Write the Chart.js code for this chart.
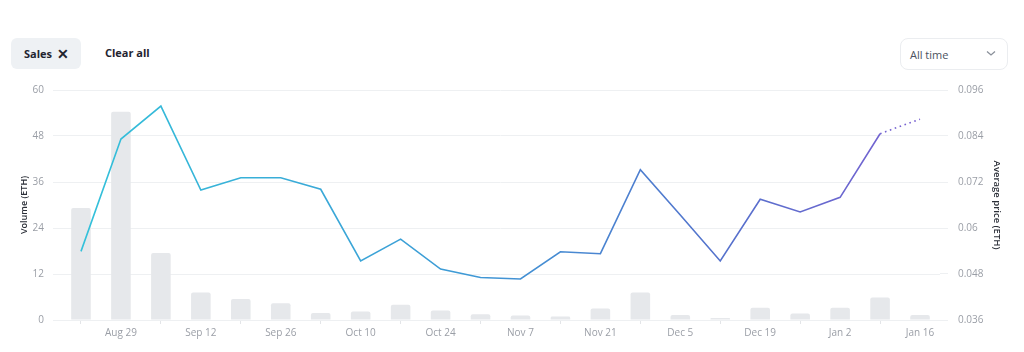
<!DOCTYPE html>
<html>
<head>
<meta charset="utf-8">
<script src="https://cdn.jsdelivr.net/npm/chart.js@4"></script>
<style>
    body { margin: 0; background: #fff; font-family: "Open Sans", sans-serif; }
    .wrap { position: relative; width: 1024px; height: 352px; overflow: hidden; }
    .chip { position: absolute; left: 11px; top: 38px; width: 70px; height: 31px; background: #eef1f4; border-radius: 6px; }
    .chip span { position: absolute; left: 13px; top: 8px; font-size: 11px; font-weight: 700; color: #1f2430; }
    .chip b { position: absolute; left: 46px; top: 6px; font-size: 14px; font-weight: 700; color: #1f2430; }
    .clear { position: absolute; left: 105px; top: 45px; font-size: 11px; font-weight: 700; color: #1f2430; }
    .select { position: absolute; left: 900px; top: 38px; width: 106px; height: 30px; border: 1px solid #ebedf0; border-radius: 8px; }
    .select span { position: absolute; left: 9px; top: 8px; font-size: 11px; color: #4b5260; }
    .select svg { position: absolute; left: 85px; top: 11px; }
    .chart-box { position: absolute; left: 0; top: 74px; width: 1024px; height: 278px; }
</style>
</head>
<body>
<div class="wrap">
    <div class="chip"><span>Sales</span><b>&#x2715;</b></div>
    <div class="clear">Clear all</div>
    <div class="select"><span>All time</span>
        <svg width="10" height="7" viewBox="0 0 10 7"><path d="M1 1.5 L5 5 L9 1.5" fill="none" stroke="#8a909a" stroke-width="1.3"/></svg>
    </div>
    <div class="chart-box"><canvas id="sales-chart"></canvas></div>
</div>
<script>
const weeks = ['Aug 22', 'Aug 29', 'Sep 5', 'Sep 12', 'Sep 19', 'Sep 26', 'Oct 3', 'Oct 10', 'Oct 17', 'Oct 24', 'Oct 31',
    'Nov 7', 'Nov 14', 'Nov 21', 'Nov 28', 'Dec 5', 'Dec 12', 'Dec 19', 'Dec 26', 'Jan 2', 'Jan 9', 'Jan 16'];
const volume = [29.2, 54.3, 17.5, 7.2, 5.5, 4.4, 1.8, 2.2, 4.0, 2.5, 1.5,
    1.2, 0.9, 3.0, 7.2, 1.3, 0.5, 3.2, 1.7, 3.2, 5.9, 1.3];
const avgPrice = [0.0539, 0.0832, 0.0918, 0.0699, 0.0731, 0.0731, 0.0701, 0.0514, 0.0571, 0.0493, 0.0471,
    0.0467, 0.0538, 0.0533, 0.0752, 0.0634, 0.0514, 0.0675, 0.0642, 0.0680, 0.0846, 0.0884];

const tickColor = '#9a9ea6';
const gridColor = '#eef0f2';
const titleColor = '#2b2f38';

function lineGradient(context) {
    const chart = context.chart;
    const area = chart.chartArea;
    if (!area) return '#3fb7d8';
    const g = chart.ctx.createLinearGradient(area.left, 0, area.right, 0);
    g.addColorStop(0, '#33c3da');
    g.addColorStop(0.45, '#3e9bd6');
    g.addColorStop(0.75, '#5572cc');
    g.addColorStop(1, '#7d5fd2');
    return g;
}

const lastIndex = weeks.length - 1;

new Chart(document.getElementById('sales-chart'), {
    data: {
        labels: weeks,
        datasets: [
            {
                type: 'line',
                label: 'Average price',
                data: avgPrice,
                yAxisID: 'y1',
                borderColor: lineGradient,
                borderWidth: 1.6,
                pointRadius: 0,
                tension: 0,
                segment: {
                    borderDash: ctx => ctx.p1DataIndex === lastIndex ? [1.6, 3.6] : undefined
                }
            },
            {
                type: 'bar',
                label: 'Volume',
                data: volume,
                yAxisID: 'y',
                backgroundColor: '#e6e8eb',
                borderRadius: 2,
                borderSkipped: 'bottom',
                barPercentage: 0.49,
                categoryPercentage: 1
            }
        ]
    },
    options: {
        responsive: true,
        maintainAspectRatio: false,
        animation: false,
        layout: { padding: { left: 19, right: 18, top: 10, bottom: 10 } },
        plugins: {
            legend: { display: false },
            tooltip: { enabled: false }
        },
        scales: {
            x: {
                grid: {
                    drawOnChartArea: false,
                    tickLength: 4,
                    color: '#e3e5e8'
                },
                border: { color: gridColor },
                ticks: {
                    autoSkip: false,
                    maxRotation: 0,
                    padding: 3,
                    color: tickColor,
                    font: { family: 'Open Sans', size: 10 },
                    callback: function (value, index) {
                        return index % 2 === 1 ? weeks[index] : null;
                    }
                }
            },
            y: {
                position: 'left',
                min: 0,
                max: 60,
                afterFit: scale => { scale.width = 42; },
                grid: { color: gridColor, tickLength: 8 },
                border: { display: false },
                ticks: {
                    stepSize: 12,
                    padding: 9,
                    color: tickColor,
                    font: { family: 'Open Sans', size: 10 }
                },
                title: {
                    display: true,
                    text: 'Volume (ETH)',
                    color: titleColor,
                    padding: { top: 0, bottom: 0 },
                    font: { family: 'Open Sans', size: 9, weight: '600' }
                }
            },
            y1: {
                position: 'right',
                min: 0.036,
                max: 0.096,
                afterFit: scale => { scale.width = 66; },
                grid: { drawOnChartArea: false, color: gridColor, tickLength: 8 },
                border: { display: false },
                ticks: {
                    stepSize: 0.012,
                    padding: 10,
                    color: tickColor,
                    font: { family: 'Open Sans', size: 10 },
                    callback: value => String(Number(value.toFixed(3)))
                },
                title: {
                    display: true,
                    text: 'Average price (ETH)',
                    color: titleColor,
                    padding: { top: 4, bottom: 0 },
                    font: { family: 'Open Sans', size: 9.5, weight: '600' }
                }
            }
        }
    }
});
</script>
</body>
</html>
